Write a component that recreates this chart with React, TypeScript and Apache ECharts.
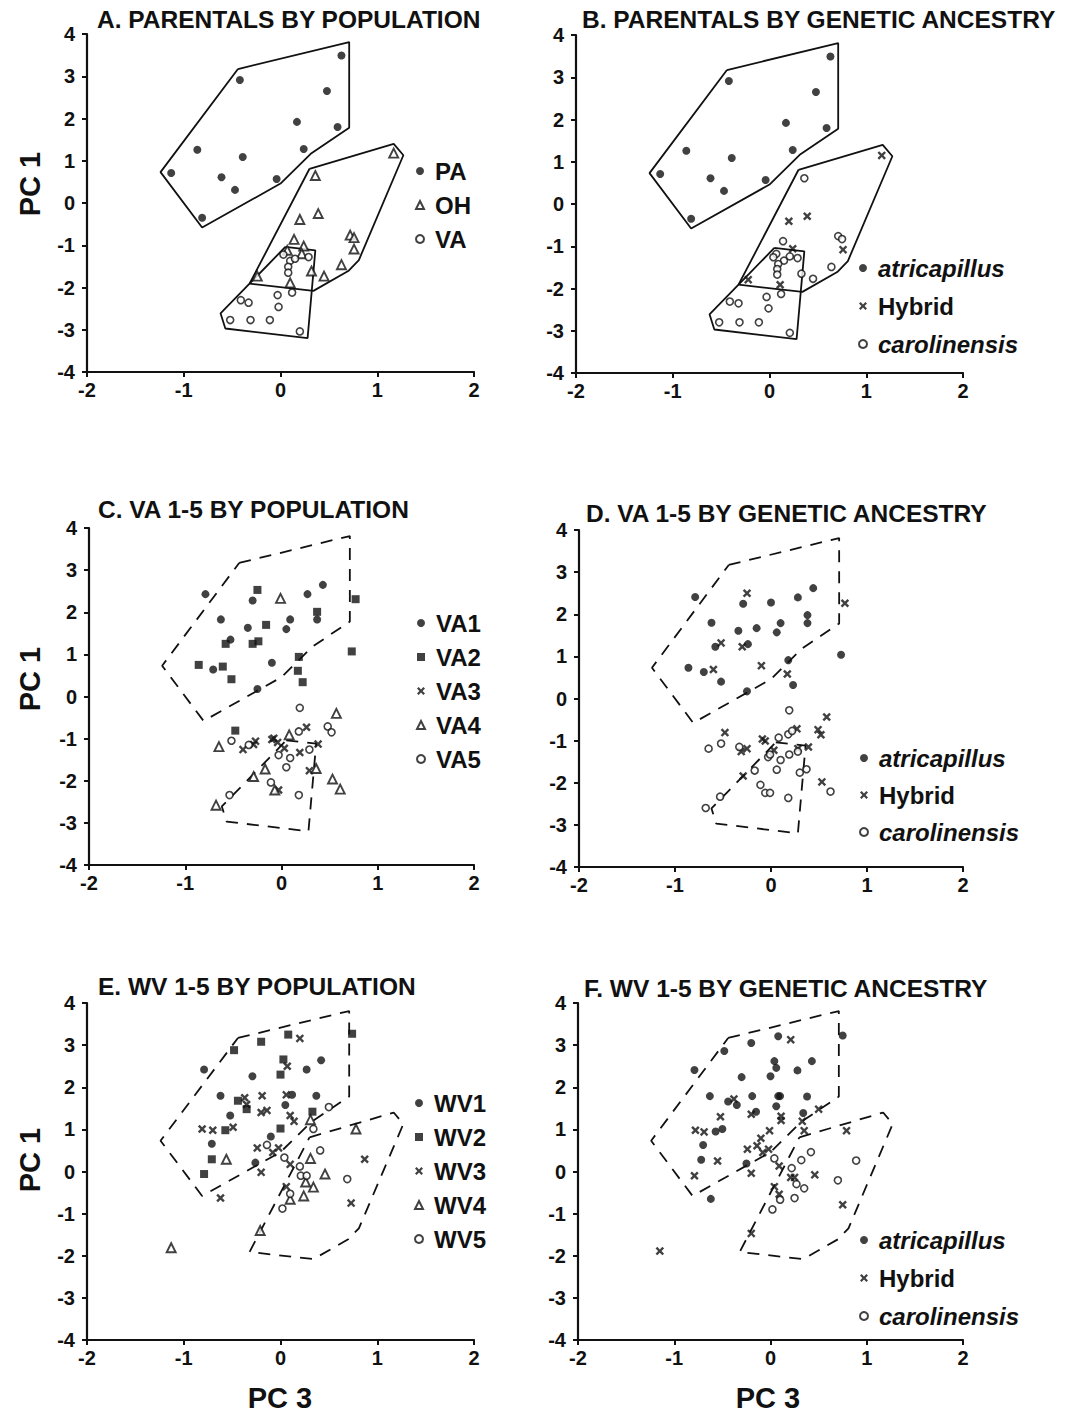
import React, { useEffect, useRef } from "react";
import * as echarts from "echarts";

const FONT = '"Liberation Sans", Arial, Helvetica, sans-serif';
const INK = "#111111";

// Parental convex hulls (PC3, PC1)
const PA_HULL = [[-0.44, 3.17], [0.71, 3.81], [0.71, 1.78], [0.32, 1.18], [0.0, 0.46], [-0.81, -0.58], [-1.24, 0.73], [-0.44, 3.17]];
const OH_HULL = [[0.30, 0.81], [1.17, 1.40], [1.27, 1.13], [0.81, -1.35], [0.70, -1.61], [0.34, -2.08], [-0.32, -1.91], [0.30, 0.81]];
const VA_HULL = [[0.05, -1.04], [0.36, -1.12], [0.28, -3.20], [-0.57, -2.97], [-0.62, -2.61], [-0.32, -1.91], [0.05, -1.04]];

// Panel A: parentals by population
const PA_A = [[0.63, 3.49], [-0.42, 2.91], [0.48, 2.65], [0.17, 1.92], [0.59, 1.80], [-0.86, 1.26], [0.24, 1.28], [-0.39, 1.09], [-1.13, 0.71], [-0.61, 0.61], [-0.04, 0.57], [-0.47, 0.31], [-0.81, -0.35]];
const OH_A = [[1.17, 1.18], [0.36, 0.65], [0.39, -0.25], [0.20, -0.39], [0.72, -0.76], [0.76, -0.82], [0.76, -1.09], [0.14, -0.86], [0.24, -1.02], [0.22, -1.20], [0.07, -1.12], [0.63, -1.46], [0.32, -1.61], [0.45, -1.73], [-0.24, -1.73], [0.10, -1.89]];
const VA_A = [[0.03, -1.22], [0.10, -1.37], [0.15, -1.32], [0.29, -1.28], [0.08, -1.51], [0.08, -1.65], [0.12, -2.12], [-0.03, -2.18], [-0.41, -2.30], [-0.33, -2.36], [-0.02, -2.46], [-0.52, -2.77], [-0.31, -2.77], [-0.11, -2.77], [0.20, -3.04]];

// Panel B: parentals by genetic ancestry
const ATRI_B = PA_A;
const HYB_B = [[1.16, 1.15], [0.20, -0.41], [0.39, -0.29], [0.24, -1.06], [0.76, -1.08], [-0.22, -1.79], [0.11, -1.91]];
const CARO_B = [[0.36, 0.61], [0.14, -0.88], [0.71, -0.76], [0.75, -0.83], [0.07, -1.18], [0.04, -1.26], [0.15, -1.34], [0.09, -1.42], [0.21, -1.24], [0.29, -1.28], [0.08, -1.54], [0.08, -1.67], [0.64, -1.49], [0.33, -1.65], [0.45, -1.77], [0.12, -2.13], [-0.03, -2.20], [-0.41, -2.31], [-0.32, -2.35], [-0.01, -2.47], [-0.52, -2.80], [-0.31, -2.80], [-0.11, -2.80], [0.21, -3.05]];

// Panel C: VA 1-5 by population
const VA1 = [[-0.79, 2.43], [-0.30, 2.28], [0.27, 2.43], [0.43, 2.65], [-0.63, 1.83], [-0.35, 1.63], [0.09, 1.83], [0.05, 1.60], [0.37, 1.83], [-0.53, 1.35], [-0.71, 0.64], [-0.10, 0.80], [-0.25, 0.18]];
const VA2 = [[-0.25, 2.53], [0.77, 2.31], [0.37, 2.01], [-0.16, 1.70], [-0.58, 1.25], [-0.30, 1.25], [-0.24, 1.31], [-0.86, 0.75], [-0.61, 0.71], [-0.52, 0.41], [0.18, 0.94], [0.17, 0.61], [0.22, 0.34], [0.73, 1.07], [-0.48, -0.81]];
const VA3 = [[-0.40, -1.26], [-0.27, -1.06], [-0.29, -1.14], [-0.10, -1.02], [-0.08, -0.99], [-0.04, -1.09], [0.03, -1.23], [0.19, -1.33], [0.26, -0.73], [0.38, -1.13], [0.29, -1.76], [-0.03, -2.22]];
const VA4 = [[-0.01, 2.33], [0.57, -0.40], [0.08, -0.91], [-0.65, -1.19], [-0.17, -1.72], [-0.29, -1.90], [0.36, -1.71], [0.53, -1.96], [0.61, -2.20], [-0.07, -2.22], [-0.68, -2.58]];
const VA5 = [[0.19, -0.27], [0.18, -0.83], [0.48, -0.71], [0.52, -0.85], [-0.52, -1.05], [-0.34, -1.15], [-0.03, -1.39], [0.09, -1.46], [0.29, -1.26], [0.05, -1.68], [-0.11, -2.04], [-0.54, -2.34], [0.18, -2.34]];

// Panel D: VA 1-5 by genetic ancestry
const ATRI_D = [[-0.79, 2.41], [-0.29, 2.25], [0.0, 2.28], [0.28, 2.40], [0.44, 2.62], [0.38, 1.98], [0.38, 1.79], [-0.62, 1.80], [-0.34, 1.61], [-0.15, 1.67], [0.10, 1.79], [0.06, 1.57], [-0.58, 1.23], [-0.24, 1.29], [-0.86, 0.73], [-0.70, 0.63], [-0.52, 0.40], [0.18, 0.91], [0.23, 0.32], [-0.25, 0.17], [0.73, 1.04]];
const HYB_D = [[-0.25, 2.50], [0.77, 2.26], [-0.52, 1.32], [-0.30, 1.23], [-0.60, 0.69], [-0.10, 0.78], [0.17, 0.58], [0.58, -0.44], [-0.48, -0.81], [0.49, -0.74], [0.52, -0.86], [-0.09, -0.96], [-0.06, -1.01], [0.03, -1.23], [-0.31, -1.26], [-0.25, -1.19], [0.27, -0.72], [0.28, -1.19], [0.39, -1.15], [-0.29, -1.84], [0.53, -1.98]];
const CARO_D = [[0.19, -0.28], [0.08, -0.93], [0.18, -0.85], [0.22, -0.77], [-0.65, -1.19], [-0.52, -1.07], [-0.33, -1.15], [-0.03, -1.39], [-0.01, -1.33], [0.10, -1.46], [0.19, -1.33], [0.28, -1.26], [-0.17, -1.71], [0.06, -1.69], [0.30, -1.76], [0.37, -1.68], [-0.11, -2.05], [-0.06, -2.24], [-0.01, -2.24], [0.18, -2.36], [0.62, -2.21], [-0.53, -2.33], [-0.68, -2.60]];

// Panel E: WV 1-5 by population
const WV1 = [[-0.79, 2.42], [0.42, 2.64], [0.27, 2.42], [-0.29, 2.26], [-0.62, 1.80], [0.12, 1.82], [0.37, 1.80], [0.05, 1.58], [-0.52, 1.33], [-0.10, 0.83], [-0.71, 0.66], [-0.26, 0.21]];
const WV2 = [[-0.48, 2.88], [-0.20, 3.08], [0.08, 3.25], [0.74, 3.27], [0.03, 2.66], [0.0, 2.30], [-0.44, 1.68], [-0.35, 1.48], [0.33, 1.42], [-0.57, 0.98], [0.0, 1.02], [-0.71, 0.29], [-0.79, -0.06]];
const WV3 = [[0.20, 3.16], [0.07, 2.50], [-0.19, 1.80], [0.06, 1.82], [-0.37, 1.75], [-0.35, 1.59], [-0.20, 1.40], [-0.14, 1.45], [0.10, 1.33], [0.14, 1.19], [-0.81, 1.01], [-0.70, 0.98], [-0.49, 1.05], [-0.24, 0.56], [-0.02, 0.56], [-0.08, 0.45], [0.10, 0.17], [-0.20, -0.02], [0.06, -0.36], [0.87, 0.29], [-0.62, -0.63], [0.73, -0.75]];
const WV4 = [[0.31, 1.23], [0.78, 1.01], [-0.56, 0.29], [0.31, 0.31], [0.46, -0.06], [0.26, -0.25], [0.34, -0.37], [0.24, -0.58], [0.10, -0.66], [-0.21, -1.40], [-1.13, -1.81]];
const WV5 = [[0.50, 1.53], [0.34, 1.01], [-0.14, 0.63], [0.04, 0.33], [0.41, 0.50], [0.20, 0.12], [0.21, -0.10], [0.27, -0.10], [0.69, -0.18], [0.10, -0.53], [0.02, -0.88]];

// Panel F: WV 1-5 by genetic ancestry
const ATRI_F = [[0.75, 3.23], [0.08, 3.21], [-0.20, 3.05], [-0.48, 2.86], [-0.79, 2.41], [0.43, 2.62], [0.04, 2.62], [0.06, 2.46], [0.28, 2.40], [-0.30, 2.24], [0.0, 2.26], [-0.63, 1.79], [-0.19, 1.79], [0.08, 1.79], [0.10, 1.79], [0.38, 1.78], [-0.44, 1.66], [-0.35, 1.58], [-0.15, 1.42], [0.06, 1.55], [0.34, 1.39], [-0.57, 0.95], [-0.50, 1.01], [-0.70, 0.63], [-0.72, 0.28], [-0.25, 0.19], [-0.62, -0.65]];
const HYB_F = [[0.21, 3.13], [-0.38, 1.72], [-0.20, 1.36], [-0.52, 1.30], [0.11, 1.31], [0.11, 1.21], [0.33, 1.19], [0.35, 0.97], [0.50, 1.48], [-0.78, 0.98], [-0.69, 0.94], [-0.01, 0.97], [0.79, 0.97], [-0.10, 0.79], [-0.14, 0.61], [-0.24, 0.53], [-0.02, 0.53], [-0.08, 0.45], [-0.55, 0.25], [0.09, 0.13], [-0.20, -0.04], [-0.79, -0.10], [0.21, -0.14], [0.25, -0.14], [0.46, -0.08], [0.04, -0.36], [0.09, -0.54], [0.75, -0.79], [-0.20, -1.47], [-1.15, -1.89]];
const CARO_F = [[0.42, 0.46], [0.89, 0.26], [0.04, 0.31], [0.32, 0.27], [0.22, 0.08], [0.27, -0.30], [0.35, -0.40], [0.70, -0.21], [0.25, -0.63], [0.10, -0.67], [0.02, -0.90]];

const TITLES = [
  "A. PARENTALS BY POPULATION",
  "B. PARENTALS BY GENETIC ANCESTRY",
  "C. VA 1-5 BY POPULATION",
  "D. VA 1-5 BY GENETIC ANCESTRY",
  "E. WV 1-5 BY POPULATION",
  "F. WV 1-5 BY GENETIC ANCESTRY",
];
const X_LABEL = "PC 3";
const Y_LABEL = "PC 1";
const ITALIC_NAMES = ["atricapillus", "carolinensis"];

const CROSS = "path://M0,2L2,0L5,3L8,0L10,2L7,5L10,8L8,10L5,7L2,10L0,8L3,5Z";

const SYM: Record<string, any> = {
  dot: { symbol: "circle", symbolSize: 8, itemStyle: { color: INK } },
  square: { symbol: "rect", symbolSize: 8, itemStyle: { color: INK } },
  cross: { symbol: CROSS, symbolSize: 8.5, itemStyle: { color: INK } },
  tri: { symbol: "triangle", symbolSize: 9, itemStyle: { color: "#fff", borderColor: INK, borderWidth: 1.9 } },
  ring: { symbol: "circle", symbolSize: 7, itemStyle: { color: "#fff", borderColor: INK, borderWidth: 1.6 } },
};

const GRIDS = [
  { left: 87, top: 34, width: 387, height: 338 },
  { left: 576, top: 35, width: 387, height: 338 },
  { left: 89, top: 528, width: 385, height: 337 },
  { left: 579, top: 530, width: 384, height: 337 },
  { left: 87, top: 1003, width: 387, height: 337 },
  { left: 578, top: 1003, width: 385, height: 337 },
];
const TITLE_POS = [[97, 7], [582, 7], [98, 497], [586, 501], [98, 974], [584, 976]];
const LEGEND_POS = [
  { left: 415, top: 159, gap: 10 },
  { left: 858, top: 256, gap: 14 },
  { left: 416, top: 611, gap: 10 },
  { left: 859, top: 746, gap: 13 },
  { left: 414, top: 1091, gap: 10 },
  { left: 859, top: 1228, gap: 14 },
];

function scatter(name: string, grid: number, data: number[][], kind: string) {
  return {
    type: "scatter",
    name,
    xAxisIndex: grid,
    yAxisIndex: grid,
    data,
    z: 3,
    silent: true,
    ...SYM[kind],
  };
}

function hull(grid: number, data: number[][], dashed: boolean) {
  return {
    type: "line",
    xAxisIndex: grid,
    yAxisIndex: grid,
    data,
    symbol: "none",
    silent: true,
    z: 1,
    lineStyle: { color: INK, width: 1.8, type: dashed ? [12, 9] : "solid" },
  };
}

function buildOption() {
  const labelStyle = { fontFamily: FONT, fontWeight: "bold", fontSize: 20, color: INK };
  const axisBase = {
    type: "value",
    axisLine: { show: true, onZero: false, lineStyle: { color: INK, width: 2.2 } },
    axisTick: { show: true, length: 5, lineStyle: { color: INK, width: 2 } },
    splitLine: { show: false },
  };
  const xAxis = GRIDS.map((_, i) => ({
    ...axisBase,
    gridIndex: i,
    min: -2,
    max: 2,
    interval: 1,
    axisLabel: { ...labelStyle, margin: 8 },
  }));
  const yAxis = GRIDS.map((_, i) => ({
    ...axisBase,
    gridIndex: i,
    min: -4,
    max: 4,
    interval: 1,
    axisLabel: { ...labelStyle, margin: 12 },
  }));

  const legendNames = [
    ["PA", "OH", "VA"],
    ["atricapillus", "Hybrid", "carolinensis"],
    ["VA1", "VA2", "VA3", "VA4", "VA5"],
    ["atricapillus", "Hybrid", "carolinensis"],
    ["WV1", "WV2", "WV3", "WV4", "WV5"],
    ["atricapillus", "Hybrid", "carolinensis"],
  ];
  const richBase = { fontFamily: FONT, fontWeight: "bold", fontSize: 24, color: INK, padding: [0, 0, 0, 6] };
  const legend = legendNames.map((names, i) => ({
    data: names,
    orient: "vertical",
    left: LEGEND_POS[i].left,
    top: LEGEND_POS[i].top,
    itemGap: LEGEND_POS[i].gap,
    itemWidth: 8,
    itemHeight: 8,
    padding: 0,
    selectedMode: false,
    formatter: (n: string) => (ITALIC_NAMES.includes(n) ? `{i|${n}}` : `{n|${n}}`),
    textStyle: {
      fontFamily: FONT,
      fontWeight: "bold",
      fontSize: 24,
      color: INK,
      rich: { i: { ...richBase, fontStyle: "italic" }, n: { ...richBase } },
    },
  }));

  const title = TITLES.map((t, i) => ({
    text: t,
    left: TITLE_POS[i][0],
    top: TITLE_POS[i][1],
    padding: 0,
    textStyle: { fontFamily: FONT, fontWeight: "bold", fontSize: 24.5, color: INK },
  }));

  const series: any[] = [
    hull(0, PA_HULL, false), hull(0, OH_HULL, false), hull(0, VA_HULL, false),
    scatter("PA", 0, PA_A, "dot"), scatter("OH", 0, OH_A, "tri"), scatter("VA", 0, VA_A, "ring"),

    hull(1, PA_HULL, false), hull(1, OH_HULL, false), hull(1, VA_HULL, false),
    scatter("atricapillus", 1, ATRI_B, "dot"), scatter("Hybrid", 1, HYB_B, "cross"), scatter("carolinensis", 1, CARO_B, "ring"),

    hull(2, PA_HULL, true), hull(2, VA_HULL, true),
    scatter("VA1", 2, VA1, "dot"), scatter("VA2", 2, VA2, "square"), scatter("VA3", 2, VA3, "cross"),
    scatter("VA4", 2, VA4, "tri"), scatter("VA5", 2, VA5, "ring"),

    hull(3, PA_HULL, true), hull(3, VA_HULL, true),
    scatter("atricapillus", 3, ATRI_D, "dot"), scatter("Hybrid", 3, HYB_D, "cross"), scatter("carolinensis", 3, CARO_D, "ring"),

    hull(4, PA_HULL, true), hull(4, OH_HULL, true),
    scatter("WV1", 4, WV1, "dot"), scatter("WV2", 4, WV2, "square"), scatter("WV3", 4, WV3, "cross"),
    scatter("WV4", 4, WV4, "tri"), scatter("WV5", 4, WV5, "ring"),

    hull(5, PA_HULL, true), hull(5, OH_HULL, true),
    scatter("atricapillus", 5, ATRI_F, "dot"), scatter("Hybrid", 5, HYB_F, "cross"), scatter("carolinensis", 5, CARO_F, "ring"),
  ];

  const nameStyle = { fontFamily: FONT, fontWeight: "bold", fontSize: 29, fill: INK };
  const graphic = [
    { type: "text", x: 30, y: 184, rotation: Math.PI / 2, style: { ...nameStyle, text: Y_LABEL, textAlign: "center", textVerticalAlign: "middle" } },
    { type: "text", x: 30, y: 679, rotation: Math.PI / 2, style: { ...nameStyle, text: Y_LABEL, textAlign: "center", textVerticalAlign: "middle" } },
    { type: "text", x: 30, y: 1160, rotation: Math.PI / 2, style: { ...nameStyle, text: Y_LABEL, textAlign: "center", textVerticalAlign: "middle" } },
    { type: "text", x: 280, y: 1398, style: { ...nameStyle, text: X_LABEL, textAlign: "center", textVerticalAlign: "middle" } },
    { type: "text", x: 768, y: 1398, style: { ...nameStyle, text: X_LABEL, textAlign: "center", textVerticalAlign: "middle" } },
  ];

  return {
    animation: false,
    backgroundColor: "#ffffff",
    title,
    legend,
    grid: GRIDS,
    xAxis,
    yAxis,
    series,
    graphic,
  };
}

export default function App() {
  const ref = useRef<HTMLDivElement>(null);
  useEffect(() => {
    if (!ref.current) return;
    const chart = echarts.init(ref.current, undefined, { renderer: "svg" });
    chart.setOption(buildOption() as any);
    return () => chart.dispose();
  }, []);
  return (
    <div
      ref={ref}
      style={{ position: "absolute", left: 0, top: 0, width: 1068, height: 1417, background: "#fff" }}
    />
  );
}
